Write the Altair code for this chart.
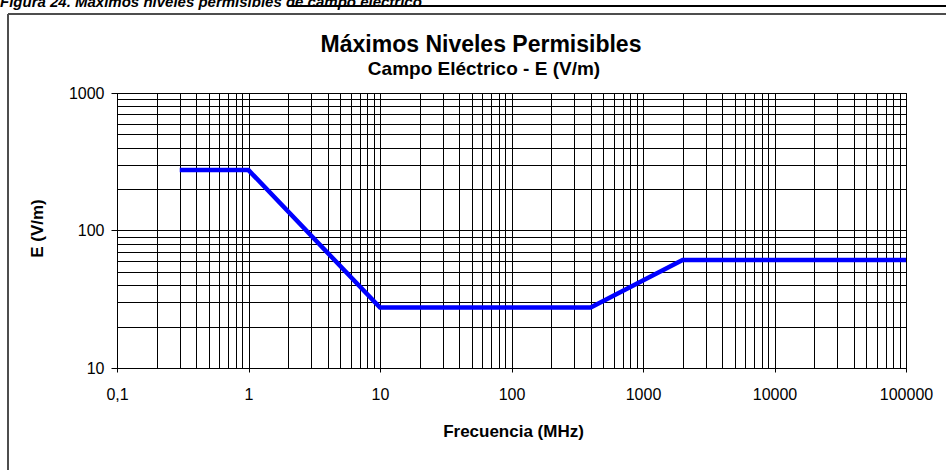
import altair as alt
import pandas as pd

# ---- data ----
freq_mhz = [0.3, 1, 10, 400, 2000, 100000]
e_vm = [275, 275, 27.5, 27.5, 61, 61]

x_decades = [0.1, 1, 10, 100, 1000, 10000]
y_decades = [10, 100]
multipliers = [1, 2, 3, 4, 5, 6, 7, 8, 9]
x_last = 100000
y_last = 1000

title_text = "Máximos Niveles Permisibles"
subtitle_text = "Campo Eléctrico  - E (V/m)"
x_title = "Frecuencia (MHz)"
y_title = "E (V/m)"
caption_text = "Figura 24. Máximos niveles permisibles de campo eléctrico"

x_ticks = [round(d * m, 6) for d in x_decades for m in multipliers] + [x_last]
y_ticks = [d * m for d in y_decades for m in multipliers] + [y_last]

FONT = "Liberation Sans"
is_decade = "abs(log(datum.value)/LN10 - round(log(datum.value)/LN10)) < 0.001"
label_expr = f"({is_decade}) ? replace(format(datum.value, '~g'), '.', ',') : ''"
tick_op = {"condition": {"test": is_decade, "value": 1}, "value": 0}

df = pd.DataFrame({"f": freq_mhz, "e": e_vm})

line = alt.Chart(df).mark_line(color="#0000FF", strokeWidth=4.5).encode(
    x=alt.X(
        "f:Q",
        scale=alt.Scale(type="log", domain=[0.1, 100000], nice=False),
        axis=alt.Axis(
            values=x_ticks,
            labelExpr=label_expr,
            grid=True,
            gridColor="#000000",
            gridOpacity=1,
            gridWidth=1,
            tickSize=4,
            tickColor="#000000",
            tickOpacity=tick_op,
            domainColor="#000000",
            labelFontSize=16,
            labelColor="#000000",
            labelFont=FONT,
            labelPadding=14,
            labelFlush=False,
            labelOverlap=False,
            labelBound=False,
            title=x_title,
            titleFont=FONT,
            titleFontSize=17,
            titleFontWeight="bold",
            titleColor="#000000",
            titleX=396,
            titleY=68,
            titleAlign="center",
            titleBaseline="alphabetic",
        ),
    ),
    y=alt.Y(
        "e:Q",
        scale=alt.Scale(type="log", domain=[10, 1000], nice=False),
        axis=alt.Axis(
            values=y_ticks,
            labelExpr=label_expr,
            grid=True,
            gridColor="#000000",
            gridOpacity=1,
            gridWidth=1,
            tickSize=6,
            tickColor="#000000",
            tickOpacity=tick_op,
            domainColor="#000000",
            labelFontSize=16,
            labelColor="#000000",
            labelFont=FONT,
            labelPadding=7,
            labelFlush=False,
            labelOverlap=False,
            labelBound=False,
            title=y_title,
            titleFont=FONT,
            titleFontSize=17,
            titleFontWeight="bold",
            titleColor="#000000",
            titleX=-80,
            titleY=135,
            titleAngle=270,
            titleAlign="center",
            titleBaseline="middle",
        ),
    ),
)

def text_layer(txt, x, y, size, **kw):
    return alt.Chart(pd.DataFrame({"t": [txt]})).mark_text(
        font=FONT, fontSize=size, fontWeight="bold", color="#000000", **kw
    ).encode(text="t:N", x=alt.value(x), y=alt.value(y))

title = text_layer(title_text, 364, -41, 23, align="center", baseline="alphabetic")
subtitle = text_layer(subtitle_text, 367, -18, 19, align="center", baseline="alphabetic")
caption = text_layer(caption_text, -117, -86.5, 15, align="left", baseline="alphabetic",
                     fontStyle="italic")

frame_df = pd.DataFrame({"k": [0]})
frame_top = alt.Chart(frame_df).mark_rule(color="#4d4d4d", strokeWidth=2).encode(
    x=alt.value(-109), x2=alt.value(829), y=alt.value(-79))
frame_left = alt.Chart(frame_df).mark_rule(color="#4d4d4d", strokeWidth=2).encode(
    x=alt.value(-109), y=alt.value(-79), y2=alt.value(377))
underline = alt.Chart(frame_df).mark_rule(color="#000000", strokeWidth=2).encode(
    x=alt.value(171), x2=alt.value(829), y=alt.value(-87))

chart = alt.layer(
    line, title, subtitle, caption, frame_top, frame_left, underline
).properties(
    width=789,
    height=275,
    autosize=alt.AutoSizeParams(type="none"),
    padding={"left": 117, "top": 93, "right": 40, "bottom": 102},
    background="#ffffff",
).configure_view(stroke="#000000", strokeWidth=1)

chart.save("out.html", embed_options={"renderer": "svg", "actions": False})
